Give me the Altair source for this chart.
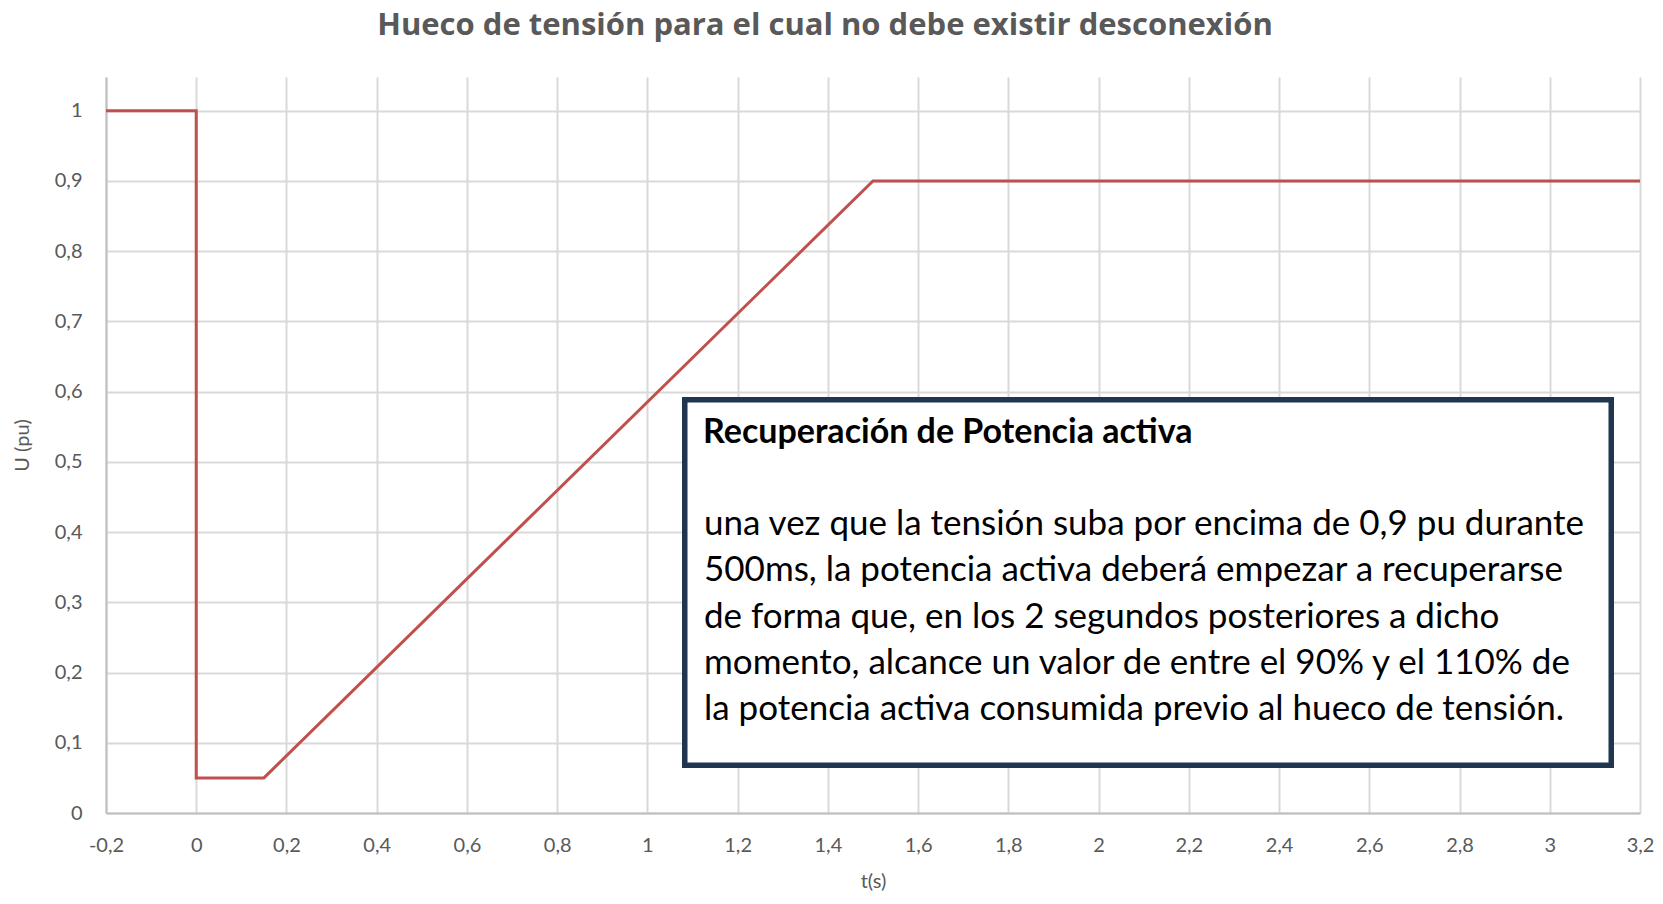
import altair as alt
import pandas as pd

t_vals = [-0.2, 0.0, 0.0, 0.15, 1.5, 3.2]
u_vals = [1.0, 1.0, 0.05, 0.05, 0.9, 0.9]
x_ticks = [-0.2, 0, 0.2, 0.4, 0.6, 0.8, 1, 1.2, 1.4, 1.6, 1.8, 2, 2.2, 2.4, 2.6, 2.8, 3, 3.2]
y_ticks = [0, 0.1, 0.2, 0.3, 0.4, 0.5, 0.6, 0.7, 0.8, 0.9, 1]

title_text = "Hueco de tensión para el cual no debe existir desconexión"
box_title = "Recuperación de Potencia activa"
box_lines = [
    "una vez que la tensión suba por encima de 0,9 pu durante",
    "500ms, la potencia activa deberá empezar a recuperarse",
    "de forma que, en los 2 segundos posteriores a dicho",
    "momento, alcance un valor de entre el 90% y el 110% de",
    "la potencia activa consumida previo al hueco de tensión.",
]

df = pd.DataFrame({"t": t_vals, "u": u_vals, "order": list(range(len(t_vals)))})

FONT = "Lato"
GREY = "#595959"
lbl = "replace(toString(datum.value), '.', ',')"

x = alt.X("t:Q", scale=alt.Scale(domain=[-0.2, 3.2], nice=False, zero=False),
          axis=alt.Axis(values=x_ticks, labelExpr=lbl, title="t(s)", grid=True,
                        gridColor="#d9d9d9", gridWidth=2, domainColor="#bfbfbf",
                        domainWidth=2, ticks=False, labelPadding=22, labelFontSize=20,
                        labelColor=GREY, labelFont=FONT, titleFont=FONT, titleFontSize=20,
                        titleFontWeight="normal", titleColor=GREY, titlePadding=16,
                        labelFlush=False))
y = alt.Y("u:Q", scale=alt.Scale(domain=[0, 1.048], nice=False),
          axis=alt.Axis(values=y_ticks, labelExpr=lbl, title="U (pu)", grid=True,
                        gridColor="#d9d9d9", gridWidth=2, domainColor="#bfbfbf",
                        domainWidth=2, ticks=False, labelPadding=24, labelFontSize=20,
                        labelColor=GREY, labelFont=FONT, titleFont=FONT, titleFontSize=20,
                        titleFontWeight="normal", titleColor=GREY, titlePadding=22))

line = alt.Chart(df).mark_line(color="#c0504d", strokeWidth=3, strokeCap="butt",
                               strokeJoin="miter").encode(x=x, y=y, order="order:O")

box = alt.Chart(pd.DataFrame({"a": [0]})).mark_rect(
    fill="white", stroke="#1f3550", strokeWidth=5.5
).encode(x=alt.value(578.75), x2=alt.value(1505.25), y=alt.value(322.75), y2=alt.value(688.25))

box_head = alt.Chart(pd.DataFrame({"txt": [box_title]})).mark_text(
    align="left", baseline="alphabetic", font=FONT, fontSize=34, fontWeight="bold", color="black"
).encode(text="txt:N", x=alt.value(597), y=alt.value(366))

box_body = alt.Chart(pd.DataFrame({"txt": [box_lines]})).mark_text(
    align="left", baseline="alphabetic", font=FONT, fontSize=35, color="black", lineHeight=46.3
).encode(text="txt", x=alt.value(598), y=alt.value(458))

chart = alt.layer(line, box, box_head, box_body).properties(
    width=1534, height=736,
    autosize=alt.AutoSizeParams(type="none"),
    padding={"left": 98, "top": 69, "right": 15, "bottom": 80},
    title=alt.TitleParams(title_text, font="Open Sans", fontSize=31, fontWeight="bold",
                          color=GREY, anchor="middle", offset=42, dx=-48, dy=31,
                          baseline="alphabetic"),
).configure_view(stroke=None)

chart.save("out.html", embed_options={"renderer": "svg", "actions": False})
